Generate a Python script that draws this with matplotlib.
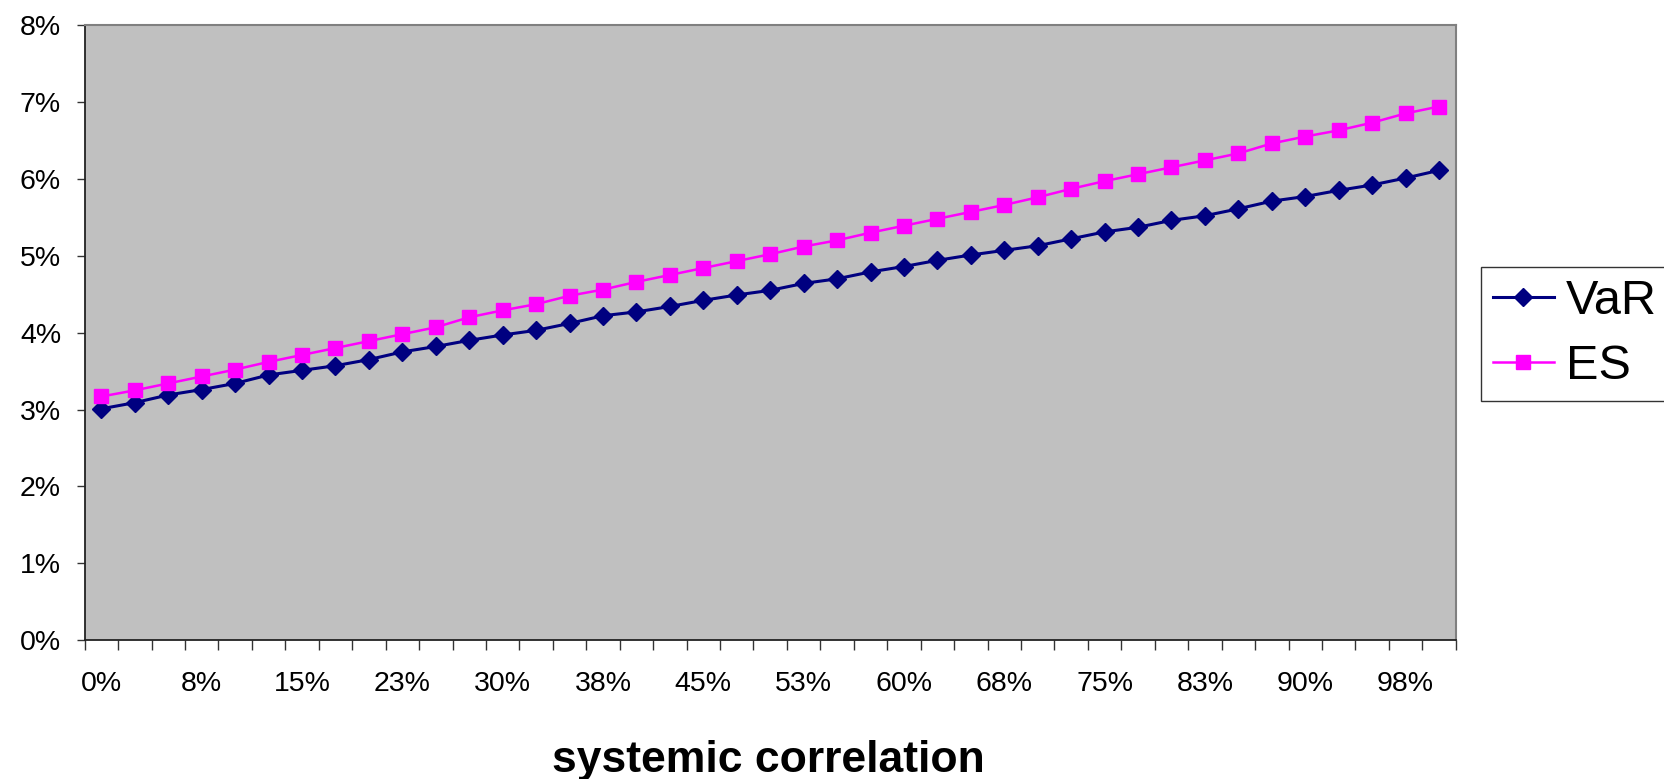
import numpy as np
import matplotlib
matplotlib.use("Agg")
import matplotlib.pyplot as plt
from matplotlib.ticker import FixedLocator, NullFormatter

plt.rcParams['font.family'] = ['Liberation Sans', 'DejaVu Sans']

# # Data, systemic correlation 0% .. 100% in 2.5% steps

correlation = [i * 2.5 for i in range(41)]
var_pct = [3.01, 3.09, 3.19, 3.26, 3.34, 3.45, 3.51, 3.57, 3.65, 3.75,
           3.82, 3.90, 3.97, 4.03, 4.12, 4.22, 4.27, 4.34, 4.42, 4.49,
           4.55, 4.64, 4.70, 4.79, 4.86, 4.94, 5.01, 5.07, 5.13, 5.22,
           5.31, 5.37, 5.46, 5.52, 5.61, 5.71, 5.77, 5.85, 5.92, 6.01, 6.11]
es_pct = [3.17, 3.25, 3.34, 3.43, 3.52, 3.62, 3.71, 3.80, 3.89, 3.98,
          4.07, 4.20, 4.29, 4.37, 4.48, 4.56, 4.66, 4.75, 4.84, 4.93,
          5.02, 5.12, 5.20, 5.30, 5.39, 5.48, 5.57, 5.66, 5.76, 5.87,
          5.97, 6.06, 6.15, 6.24, 6.33, 6.46, 6.55, 6.63, 6.73, 6.85, 6.94]
x_labels = ['0%', '8%', '15%', '23%', '30%', '38%', '45%',
            '53%', '60%', '68%', '75%', '83%', '90%', '98%']
y_labels = ['0%', '1%', '2%', '3%', '4%', '5%', '6%', '7%', '8%']

# # Figure

W, H = 1664, 779
fig = plt.figure(figsize=(W / 100, H / 100), dpi=100)
ax = fig.add_axes([84.7 / W, 1 - 640.3 / H, (1455.7 - 84.7) / W, (640.3 - 25) / H])
ax.set_facecolor('#C0C0C0')

pos = np.arange(len(correlation))
ax.plot(pos, var_pct, color='#000080', lw=2.2, marker='D', ms=9,
        mfc='#000080', mec='#000080', mew=1, label='VaR', zorder=3)
ax.plot(pos, es_pct, color='#FF00FF', lw=1.8, marker='s', ms=10,
        mfc='#FF00FF', mec='#FF00FF', mew=1, label='ES', zorder=3)

ax.set_xlim(-0.5, len(correlation) - 0.5)
ax.set_ylim(0, 8)

# category boundary ticks, labels on every third category
ax.xaxis.set_major_locator(FixedLocator(np.arange(-0.5, len(correlation) + 0.5, 1.0)))
ax.xaxis.set_major_formatter(NullFormatter())
ax.xaxis.set_minor_locator(FixedLocator(pos[::3]))
ax.set_xticklabels(x_labels, minor=True)
ax.tick_params(axis='x', which='major', direction='out', length=7, width=1, color='#333333')
ax.tick_params(axis='x', which='minor', length=0, pad=22, labelsize=20.5)

ax.set_yticks(range(9))
ax.set_yticklabels(y_labels)
ax.tick_params(axis='y', direction='out', length=6, width=1, color='#333333', pad=11, labelsize=20.5)

for side in ['left', 'bottom']:
    ax.spines[side].set_color('#222222')
    ax.spines[side].set_linewidth(1.3)
for side in ['top', 'right']:
    ax.spines[side].set_color('#808080')
    ax.spines[side].set_linewidth(1.5)

fig.text(768 / W, 1 - 771.7 / H, 'systemic correlation', ha='center', va='baseline',
         fontsize=32, fontweight='bold')

leg = fig.legend(loc='upper left', bbox_to_anchor=(1480.7 / W, 1 - 267.3 / H),
                 fontsize=35, frameon=True, fancybox=False, framealpha=1,
                 edgecolor='#333333', handlelength=1.25, handletextpad=0.25,
                 labelspacing=0.4, borderpad=0.25, borderaxespad=0)
leg.get_frame().set_linewidth(1.0)

fig.savefig('out.png', dpi=100)
